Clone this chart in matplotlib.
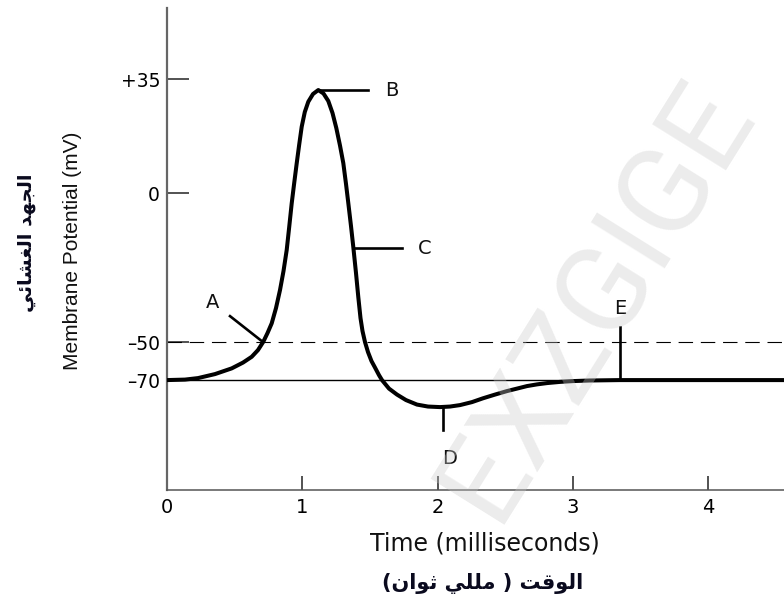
#!/usr/bin/env python3
"""Action potential schematic (membrane potential vs time) with labelled phases A-E."""

import matplotlib
matplotlib.use("Agg")
import matplotlib.pyplot as plt
import numpy as np

# curve
time_ms = [0.0, 0.1331, 0.2292, 0.3549, 0.4784, 0.5619, 0.6263, 0.6728, 0.7120,
           0.7431, 0.7741, 0.8059, 0.8355, 0.8614, 0.8850, 0.9035, 0.9220, 0.9405,
           0.9590, 0.9775, 0.9960, 1.0188, 1.0447, 1.0795, 1.1187, 1.1571, 1.1926,
           1.2237, 1.2518, 1.2791, 1.3035, 1.3235, 1.3405, 1.3604, 1.3775, 1.3974,
           1.4144, 1.4307, 1.4455, 1.4640, 1.4861, 1.5120, 1.5379, 1.5675, 1.5896,
           1.6414, 1.7006, 1.7671, 1.8484, 1.9298, 2.0185, 2.0924, 2.1664, 2.2551,
           2.3364, 2.4251, 2.5139, 2.5878, 2.6617, 2.7357, 2.8096, 2.9057, 3.0018,
           3.1275, 3.3490, 4.6]
potential_mv = [-70.0, -69.74, -68.95, -66.84, -63.84, -60.79, -57.74, -54.21, -49.90,
                -46.98, -43.72, -38.59, -32.55, -26.17, -19.13, -11.41, -3.46, 3.07,
                9.12, 14.89, 20.36, 24.87, 28.03, 30.40, 31.62, 30.55, 28.25,
                24.56, 19.96, 14.58, 9.2, 2.8, -3.36, -11.07, -18.12, -26.85,
                -34.9, -41.95, -46.3, -50.0, -55.26, -60.0, -63.4, -67.4, -70.0,
                -73.15, -75.37, -77.4, -79.07, -79.8, -80.0, -79.8, -79.26, -78.15,
                -76.74, -75.37, -74.07, -73.15, -72.22, -71.59, -71.11, -70.67, -70.37,
                -70.15, -70.0, -70.0]

threshold_mv = -50
resting_mv = -70

y_ticks = [35, 0, -50, -70]
y_tick_labels = ["+35", "0", "\u201350", "\u201370"]
x_ticks = [0, 1, 2, 3, 4]

# marker segments: (label, x0, y0, x1, y1)
markers = [
    ("A", 0.466, -41.3, 0.710, -50),
    ("B", 1.1187, 31.62, 1.486, 31.62),
    ("C", 1.378, -18.5, 1.740, -18.5),
    ("D", 2.040, -80.0, 2.040, -88.5),
    ("E", 3.349, -70.0, 3.349, -45.0),
]
label_pos = {
    "A": (0.34, -36.6),
    "B": (1.664, 31.6),
    "C": (1.908, -18.5),
    "D": (2.09, -99.0),
    "E": (3.349, -38.6),
}

# the axis is drawn piecewise (schematic), not linear in mV
SCALE_MV = np.array([-120, -70, -50, 0, 35, 70], dtype=float)
SCALE_PX = -np.array([515, 380, 342, 193, 79, -35], dtype=float)


def forward(v):
    return np.interp(v, SCALE_MV, SCALE_PX)


def inverse(u):
    return np.interp(u, SCALE_PX, SCALE_MV)


def shaped(*words):
    # visual (left-to-right) order of already-joined Arabic glyphs
    return " ".join(words)


# presentation forms, each word reversed for LTR drawing
AR_YLABEL = shaped("\ufef2\ufe8b\ufe8e\ufeb8\ufed0\ufedf\ufe8d",
                   "\ufeaa\ufeec\ufea0\ufedf\ufe8d")
AR_XLABEL = shaped("(\ufee5\ufe8d\ufeee\ufe9b",
                   "\ufef2\ufee0\ufee0\ufee3",
                   ")",
                   "\ufe96\ufed7\ufeee\ufedf\ufe8d")

W, H = 784, 601


def fx(px):
    return px / W


def fy(py):
    return 1 - py / H


def main():
    fig = plt.figure(figsize=(W / 100, H / 100), dpi=100)
    ax = fig.add_axes([fx(167), fy(490), 1 - fx(167), fy(8) - fy(490)])
    ax.set_yscale("function", functions=(forward, inverse))
    ax.set_xlim(0, (784 - 167) / 135.25)
    ax.set_ylim(-110.7, 56.8)

    ax.axhline(resting_mv, color="black", linewidth=1.0, zorder=2)
    ax.axhline(threshold_mv, color="black", linewidth=0.8, dashes=(13, 7), zorder=2)
    ax.plot(time_ms, potential_mv, color="black", linewidth=2.9,
            solid_joinstyle="round", solid_capstyle="round", zorder=3)

    for name, x0, y0, x1, y1 in markers:
        ax.plot([x0, x1], [y0, y1], color="black", linewidth=1.9, zorder=3)
        lx, ly = label_pos[name]
        ax.text(lx, ly, name, fontsize=14, family="DejaVu Sans",
                ha="center", va="center", color="#111111")

    for side in ("top", "right"):
        ax.spines[side].set_visible(False)
    ax.spines["left"].set_color("#666666")
    ax.spines["left"].set_linewidth(1.6)
    ax.spines["bottom"].set_color("#555555")
    ax.spines["bottom"].set_linewidth(1.1)

    ax.set_yticks(y_ticks)
    ax.set_yticklabels(y_tick_labels, family="DejaVu Sans", fontsize=13.5)
    ax.set_xticks(x_ticks)
    ax.set_xticklabels([str(v) for v in x_ticks], family="DejaVu Sans", fontsize=14)
    ax.tick_params(axis="y", direction="in", length=16, width=1.3,
                   color="#444444", pad=5)
    ax.tick_params(axis="x", direction="in", length=10, width=1.3,
                   color="#444444", pad=6)
    ax.minorticks_off()

    fig.text(fx(485), fy(543), "Time (milliseconds)", family="DejaVu Sans",
             fontsize=17, ha="center", va="center", color="#111111")
    fig.text(fx(483), fy(584), AR_XLABEL, family="DejaVu Sans",
             fontweight="bold", fontsize=15, ha="center", va="center",
             color="#0a0a1e")
    fig.text(fx(72), fy(251), "Membrane Potential (mV)", family="Liberation Sans",
             fontsize=15, rotation=90, ha="center", va="center", color="#111111")
    fig.text(fx(27), fy(243), AR_YLABEL, family="DejaVu Sans",
             fontweight="bold", fontsize=14, rotation=90, ha="center",
             va="center", color="#0a0a1e")

    # faint diagonal watermark
    fig.text(fx(596), fy(300), "EXZGIGE", family=["Roboto", "DejaVu Sans"],
             fontweight="normal", fontsize=88, rotation=58,
             rotation_mode="anchor", ha="center", va="center",
             color="#c8c8c8", alpha=0.35, zorder=10)

    fig.savefig("out.png", dpi=100, facecolor="white")
    plt.close(fig)


if __name__ == "__main__":
    main()
